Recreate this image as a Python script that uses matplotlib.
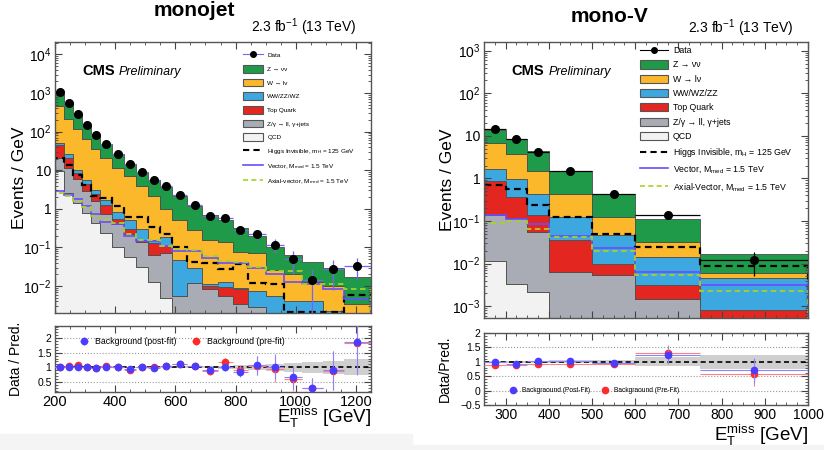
import numpy as np
import matplotlib.pyplot as plt
from matplotlib.lines import Line2D
from matplotlib.patches import Patch, Rectangle
from matplotlib.ticker import MultipleLocator, LogLocator, FuncFormatter, NullFormatter

plt.rcParams['font.family'] = ['Liberation Sans', 'DejaVu Sans']
plt.rcParams['mathtext.fontset'] = 'custom'
plt.rcParams['mathtext.rm'] = 'Liberation Sans'
plt.rcParams['mathtext.it'] = 'Liberation Sans:italic'
plt.rcParams['mathtext.bf'] = 'Liberation Sans:bold'

# ---------------- monojet category ----------------
mj_edges = [200, 230, 260, 290, 320, 350, 390, 430, 470, 510, 550, 590,
            640, 690, 740, 790, 840, 900, 960, 1020, 1090, 1160, 1250]
mj_qcd = [9.5, 2.6, 1.4, 0.78, 0.43, 0.23, 0.10, 0.057, 0.031, 0.013, 0.005,
          0, 0, 0, 0, 0, 0, 0, 0, 0, 0, 0]
mj_zll = [11.5, 8.9, 4.6, 2.2, 1.17, 0.52, 0.30, 0.163, 0.109, 0.052, 0.065,
          0.0055, 0.012, 0.0085, 0.0055, 0.0035, 0.0028, 0, 0, 0, 0, 0]
mj_top = [24, 9.5, 2.5, 1.3, 0.8, 0.5, 0.15, 0.08, 0.02, 0.065, 0.04,
          0, 0, 0.0015, 0.004, 0.005, 0, 0, 0, 0, 0, 0]
mj_vv = [7, 5, 1.5, 1.2, 0.7, 0.45, 0.30, 0.20, 0.14, 0.03, 0.08,
         0.0425, 0.018, 0.001, 0.0035, 0.0005, 0.0047, 0.0055, 0.0042, 0.0042, 0.0022, 0.0015]
mj_wln = [418, 189, 105, 57.5, 31.9, 19.3, 10.65, 6.4, 3.6, 1.94, 0.8,
          0.452, 0.25, 0.149, 0.127, 0.066, 0.0625, 0.0205, 0.0168, 0.0088, 0.0078, 0.002]
mj_znn = [480, 305, 175, 87, 47, 27, 15.5, 7.6, 5.1, 3.5, 2.6,
          1.7, 0.92, 0.54, 0.36, 0.235, 0.13, 0.079, 0.041, 0.030, 0.019, 0.0135]

mj_data = [1050, 540, 280, 148, 82, 49, 27, 14.8, 9.1, 5.7, 3.8,
           2.3, 1.23, 0.66, 0.57, 0.28, 0.22, 0.117, 0.050, 0.014, 0.028, 0.033]
mj_data_err = [5.9, 4.2, 3.1, 2.2, 1.7, 1.1, 0.82, 0.61, 0.48, 0.38, 0.31,
               0.21, 0.16, 0.11, 0.11, 0.075, 0.061, 0.044, 0.029, 0.0139, 0.020, 0.019]

mj_higgs = [21, 14, 7.5, 4.2, 2.2, 1.9, 1.2, 0.62, 0.62, 0.34, 0.22,
            0.10, 0.042, 0.040, 0.028, 0.037, 0.012, 0.011, 0.0021, 0.0021, 0.0021, 0.0058]
mj_vector = [2.9, 2.3, 1.75, 1.17, 0.72, 0.46, 0.40, 0.20, 0.15, 0.15, 0.11,
             0.081, 0.081, 0.054, 0.040, 0.040, 0.030, 0.021, 0.013, 0.011, 0.0085, 0.0045]
mj_axial = [2.6, 2.2, 1.6, 1.1, 0.65, 0.50, 0.42, 0.22, 0.16, 0.16, 0.11,
            0.09, 0.085, 0.06, 0.045, 0.042, 0.031, 0.025, 0.024, 0.011, 0.011, 0.0085]

mj_ratio_post = [1.0, 1.0, 1.02, 1.0, 0.98, 1.02, 1.01, 0.93, 1.01, 0.99, 1.04,
                 1.12, 1.05, 0.91, 1.02, 0.85, 1.07, 1.02, 0.65, 0.30, 0.90, 1.88]
mj_ratio_pre = [1.02, 1.03, 1.07, 1.02, 0.99, 1.03, 1.02, 0.92, 1.02, 1.0, 1.03,
                1.10, 1.03, 0.86, 1.17, 0.90, 1.06, 0.93, 0.60, 0.29, 0.88, 1.85]
mj_ratio_err = [0.02, 0.02, 0.03, 0.03, 0.03, 0.04, 0.04, 0.05, 0.05, 0.06, 0.07,
                0.08, 0.09, 0.11, 0.14, 0.18, 0.33, 0.42, 0.40, 0.33, 0.67, 1.1]
mj_band = [0.02, 0.02, 0.02, 0.02, 0.02, 0.02, 0.02, 0.02, 0.02, 0.02, 0.02,
           0.03, 0.03, 0.04, 0.05, 0.07, 0.09, 0.12, 0.15, 0.18, 0.22, 0.28]

# ---------------- mono-V category ----------------
mv_edges = [250, 300, 350, 400, 500, 600, 750, 1000]
mv_qcd = [0.0115, 0.0033, 0.0022, 0, 0, 0, 0]
mv_zll = [0.13, 0.114, 0.052, 0.0065, 0.0054, 0.0015, 0]
mv_top = [0.72, 0.25, 0.086, 0.0295, 0.0046, 0.0017, 0.00083]
mv_vv = [0.85, 0.63, 0.29, 0.087, 0.037, 0.0108, 0.0037]
mv_wln = [5.0, 2.8, 1.07, 0.307, 0.079, 0.018, 0.0014]
mv_znn = [7.3, 4.8, 2.8, 1.07, 0.30, 0.078, 0.011]

mv_data = [14.5, 8.5, 4.1, 1.5, 0.43, 0.14, 0.012]
mv_data_err = [0.55, 0.41, 0.29, 0.12, 0.066, 0.031, 0.0069]

mv_higgs = [0.70, 0.58, 0.24, 0.125, 0.050, 0.025, 0.0090]
mv_vector = [0.14, 0.11, 0.085, 0.044, 0.023, 0.0065, 0.0032]
mv_axial = [0.092, 0.10, 0.065, 0.043, 0.020, 0.0054, 0.0023]

mv_ratio_post = [0.98, 0.94, 1.04, 1.02, 0.96, 1.24, 0.70]
mv_ratio_pre = [0.90, 0.88, 0.94, 0.93, 0.94, 1.30, 0.58]
mv_ratio_err = [0.06, 0.06, 0.07, 0.08, 0.10, 0.30, 0.42]
mv_band = [0.03, 0.03, 0.04, 0.05, 0.06, 0.15, 0.25]

# colours
c_znn = '#1f9a48'
c_wln = '#fcb82b'
c_vv = '#3da8e0'
c_top = '#e3261f'
c_zll = '#a9abb5'
c_qcd = '#f2f2f2'
c_higgs = 'black'
c_vector = '#6a4cff'
c_axial = '#a6d22a'
c_post = '#4b3dff'
c_pre = '#ff2a2a'
frame = '#555555'


def style(ax, labelsize=10):
    ax.tick_params(which='both', direction='in', top=True, right=True, color='#444444')
    ax.tick_params(which='major', length=5, width=0.8, labelsize=labelsize, pad=2.5)
    ax.tick_params(which='minor', length=2.5, width=0.6)
    for s in ax.spines.values():
        s.set_color(frame)
        s.set_linewidth(1.0)


def log_fmt(v, pos):
    e = int(round(np.log10(v)))
    if e == 0:
        return '1'
    if e == 1:
        return '10'
    return r'$10^{%d}$' % e


def draw_stack(ax, edges, layers):
    base = np.full(len(edges) - 1, 1e-6)
    for vals, col in layers:
        top = base + np.array(vals, dtype=float)
        ax.stairs(np.maximum(top, 1e-6), edges, baseline=base, fill=True,
                  facecolor=col, edgecolor='#4d4d4d', lw=0.6)
        base = top


def main_panel(ax, edges, layers, data, err, sig, data_col, ylim):
    e = np.array(edges, dtype=float)
    centers = 0.5 * (e[1:] + e[:-1])
    half = 0.5 * (e[1:] - e[:-1])
    draw_stack(ax, edges, layers)
    higgs, vector, axial = sig
    ax.stairs(higgs, edges, color=c_higgs, lw=1.6, ls=(0, (3, 2)))
    ax.stairs(vector, edges, color=c_vector, lw=1.2)
    ax.stairs(axial, edges, color=c_axial, lw=1.3, ls=(0, (3, 2)))
    ax.errorbar(centers, data, yerr=err, xerr=half, fmt='o', color=data_col,
                mfc='black', mec='black', ms=5.5, elinewidth=0.9, capsize=0, zorder=5)
    ax.set_yscale('log')
    ax.set_xlim(edges[0], edges[-1])
    ax.set_ylim(*ylim)
    ax.yaxis.set_major_locator(LogLocator(base=10, numticks=20))
    ax.yaxis.set_minor_locator(LogLocator(base=10, subs=np.arange(2, 10), numticks=20))
    ax.yaxis.set_major_formatter(FuncFormatter(log_fmt))
    ax.yaxis.set_minor_formatter(NullFormatter())
    style(ax, 10)
    ax.tick_params(labelbottom=False)
    ax.set_ylabel('Events / GeV', fontsize=12.5)


def ratio_panel(ax, edges, post, pre, err, band, labels, leg_kw):
    e = np.array(edges, dtype=float)
    centers = 0.5 * (e[1:] + e[:-1])
    half = 0.5 * (e[1:] - e[:-1])
    band = np.array(band)
    ax.stairs(1 + band, edges, baseline=1 - band, fill=True, color='#cfcfcf', lw=0)
    ax.axhline(1, color='black', ls=(0, (3, 2)), lw=1.2, zorder=2)
    ax.errorbar(centers, pre, yerr=err, xerr=half, fmt='o', color=c_pre, ms=4.5,
                elinewidth=0.8, ecolor='#ff8080', capsize=0, label=labels[1], zorder=4)
    ax.errorbar(centers, post, yerr=err, xerr=half, fmt='o', color=c_post, ms=4.5,
                elinewidth=0.8, ecolor='#8c84ff', capsize=0, label=labels[0], zorder=5)
    ax.set_xlim(edges[0], edges[-1])
    style(ax, 7.5)
    ax.tick_params(axis='x', labelsize=10.5)
    h, l = ax.get_legend_handles_labels()
    ax.legend(h[::-1], l[::-1], ncol=2, frameon=False, handletextpad=0.3,
              columnspacing=1.2, borderpad=0, **leg_kw)


def legend_handles(data_col, vv_label, axial_label):
    return [
        Line2D([], [], color=data_col, marker='o', mfc='black', mec='black', ms=4, lw=0.8),
        Patch(facecolor=c_znn, edgecolor=frame, lw=0.8),
        Patch(facecolor=c_wln, edgecolor=frame, lw=0.8),
        Patch(facecolor=c_vv, edgecolor=frame, lw=0.8),
        Patch(facecolor=c_top, edgecolor=frame, lw=0.8),
        Patch(facecolor=c_zll, edgecolor=frame, lw=0.8),
        Patch(facecolor=c_qcd, edgecolor=frame, lw=0.8),
        Line2D([], [], color=c_higgs, lw=1.5, ls=(0, (3, 2))),
        Line2D([], [], color=c_vector, lw=1.2),
        Line2D([], [], color=c_axial, lw=1.2, ls=(0, (3, 2))),
    ], [
        'Data', 'Z → νν', 'W → lν', vv_label, 'Top Quark',
        'Z/γ → ll, γ+jets', 'QCD',
        r'Higgs Invisible, m$_{\rm H}$ = 125 GeV',
        r'Vector, M$_{\rm med}$ = 1.5 TeV',
        axial_label + r', M$_{\rm med}$ = 1.5 TeV',
    ]


W, H = 824, 450
fig = plt.figure(figsize=(W / 100, H / 100), dpi=100)
fig.patches.append(Rectangle((0, 0), 412 / W, 1 - 434 / H, transform=fig.transFigure,
                             color='#f4f4f4', zorder=-10))
fig.patches.append(Rectangle((412 / W, 0), 1 - 412 / W, 1 - 445 / H, transform=fig.transFigure,
                             color='#f4f4f4', zorder=-10))

ax1 = fig.add_axes([55 / W, 1 - 313 / H, 316 / W, 271 / H])
ax1r = fig.add_axes([55 / W, 1 - 392 / H, 316 / W, 66 / H])
ax2 = fig.add_axes([484 / W, 1 - 318 / H, 324 / W, 276 / H])
ax2r = fig.add_axes([484 / W, 1 - 405 / H, 324 / W, 72 / H])

# monojet
mj_layers = [(mj_qcd, c_qcd), (mj_zll, c_zll), (mj_top, c_top),
             (mj_vv, c_vv), (mj_wln, c_wln), (mj_znn, c_znn)]
main_panel(ax1, mj_edges, mj_layers, mj_data, mj_data_err,
           (mj_higgs, mj_vector, mj_axial), '#7565f2', (2e-3, 2.1e4))
ax1.xaxis.set_major_locator(MultipleLocator(200))
ax1.xaxis.set_minor_locator(MultipleLocator(50))
ax1.yaxis.set_label_coords(-0.09, 0.5)
h, l = legend_handles('#7565f2', 'WW/ZZ/WZ', 'Axial-vector')
ax1.legend(h, l, loc='upper left', bbox_to_anchor=(0.595, 0.965), frameon=False,
           fontsize=4.6, handlelength=3.2, handleheight=1.45, labelspacing=0.95,
           handletextpad=0.6, borderpad=0, borderaxespad=0)
ax1.text(0.088, 0.878, 'CMS', transform=ax1.transAxes, fontsize=10.5,
         fontweight='bold', va='baseline')
ax1.text(0.2, 0.878, 'Preliminary', transform=ax1.transAxes, fontsize=9,
         style='italic', va='baseline')

ratio_panel(ax1r, mj_edges, mj_ratio_post, mj_ratio_pre, mj_ratio_err, mj_band,
            ('Background (post-fit)', 'Background (pre-fit)'),
            dict(loc='upper left', bbox_to_anchor=(0.05, 0.9), fontsize=6.3))
ax1r.set_ylim(0.15, 2.42)
for yv in (0.5, 1.5, 2.0):
    ax1r.axhline(yv, color='#999999', ls=':', lw=0.8, zorder=1)
ax1r.yaxis.set_major_locator(MultipleLocator(0.5))
ax1r.yaxis.set_minor_locator(MultipleLocator(0.1))
ax1r.yaxis.set_major_formatter(FuncFormatter(lambda v, p: '%g' % v))
ax1r.xaxis.set_major_locator(MultipleLocator(200))
ax1r.xaxis.set_minor_locator(MultipleLocator(50))
ax1r.set_ylabel('Data / Pred.', fontsize=10)
ax1r.yaxis.set_label_coords(-0.1, 0.5)
ax1r.set_xlabel(r'E$_{\rm T}^{\rm miss}$ [GeV]', fontsize=13.5, loc='right')
ax1r.xaxis.set_label_coords(1.0, -0.2)
ax1r.xaxis.label.set_va('top')

# mono-V
mv_layers = [(mv_qcd, c_qcd), (mv_zll, c_zll), (mv_top, c_top),
             (mv_vv, c_vv), (mv_wln, c_wln), (mv_znn, c_znn)]
main_panel(ax2, mv_edges, mv_layers, mv_data, mv_data_err,
           (mv_higgs, mv_vector, mv_axial), 'black', (5.3e-4, 1.6e3))
ax2.xaxis.set_major_locator(MultipleLocator(100))
ax2.xaxis.set_minor_locator(MultipleLocator(25))
ax2.yaxis.set_label_coords(-0.09, 0.5)
h, l = legend_handles('black', 'WW/WZ/ZZ', 'Axial-Vector')
ax2.legend(h, l, loc='upper left', bbox_to_anchor=(0.48, 0.985), frameon=False,
           fontsize=6.3, handlelength=3.2, handleheight=1.05, labelspacing=0.6,
           handletextpad=0.6, borderpad=0, borderaxespad=0)
ax2.text(0.086, 0.88, 'CMS', transform=ax2.transAxes, fontsize=10.5,
         fontweight='bold', va='baseline')
ax2.text(0.2, 0.88, 'Preliminary', transform=ax2.transAxes, fontsize=9,
         style='italic', va='baseline')

ratio_panel(ax2r, mv_edges, mv_ratio_post, mv_ratio_pre, mv_ratio_err, mv_band,
            ('Backgraound (Post-Fit)', 'Backgraound (Pre-Fit)'),
            dict(loc='lower left', bbox_to_anchor=(0.06, 0.1), fontsize=4.8))
ax2r.set_ylim(-0.5, 2.0)
for yv in (0.0, 0.5, 1.5):
    ax2r.axhline(yv, color='#999999', ls=':', lw=0.8, zorder=1)
ax2r.yaxis.set_major_locator(MultipleLocator(0.5))
ax2r.yaxis.set_minor_locator(MultipleLocator(0.1))
ax2r.yaxis.set_major_formatter(FuncFormatter(lambda v, p: '%g' % v if v >= 0 else '\u2212%g' % -v))
ax2r.xaxis.set_major_locator(MultipleLocator(100))
ax2r.xaxis.set_minor_locator(MultipleLocator(25))
ax2r.tick_params(axis='x', labelsize=10)
ax2r.set_ylabel('Data/Pred.', fontsize=10)
ax2r.yaxis.set_label_coords(-0.1, 0.5)
ax2r.set_xlabel(r'E$_{\rm T}^{\rm miss}$ [GeV]', fontsize=13.5, loc='right')
ax2r.xaxis.set_label_coords(1.0, -0.25)
ax2r.xaxis.label.set_va('top')

# titles and luminosity labels
fig.text(194 / W, 1 - 11 / H, 'monojet', fontsize=15, fontweight='bold', ha='center', va='center')
fig.text(610 / W, 1 - 16 / H, 'mono-V', fontsize=15, fontweight='bold', ha='center', va='center')
fig.text(356 / W, 1 - 27 / H, r'2.3 fb$^{-1}$ (13 TeV)', fontsize=10, ha='right', va='center')
fig.text(793 / W, 1 - 28 / H, r'2.3 fb$^{-1}$ (13 TeV)', fontsize=10, ha='right', va='center')

fig.savefig('out.png', dpi=100)
